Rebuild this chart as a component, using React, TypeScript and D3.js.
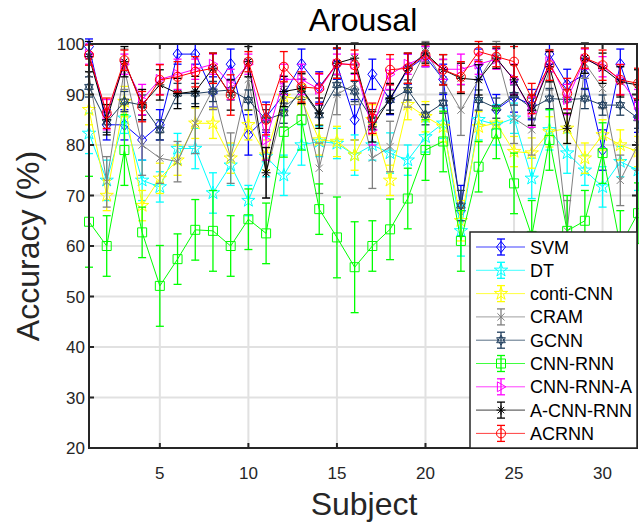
import React from "react";
import * as d3 from "d3";

const subjects = [1,2,3,4,5,6,7,8,9,10,11,12,13,14,15,16,17,18,19,20,21,22,23,24,25,26,27,28,29,30,31,32];
const xTicks = [5, 10, 15, 20, 25, 30];
const yTicks = [20, 30, 40, 50, 60, 70, 80, 90, 100];

const svmVals = [99.5,84,84,81,84,98,98,90.5,96,82,85.5,90,96,91.5,96,85,94,89,95,97.5,93,67,96,87,89.5,88,98,92,94,79,96,85.5];
const svmErr  = [1.5,3,3,4,3,2,2,3,3,4,3,3,3,3,3,4,3,3,3,2,3,5,3,3,3,3,2,3,3,4,3,3];
const dtVals  = [82.3,73,85.3,73,71.7,79.3,79.3,70.5,76,69,77.7,74,80,80.7,80.3,78,80,78.4,77,81.6,84.3,63,85,84,85.3,73.4,83,78.4,75,71.7,76.7,75];
const dtErr   = [4,4,3,4,3,3,4,4,4,3,4,4,4,3,3,4,3,4,3,3,3,5,4,4,3,4,4,4,3,4,3,4];
const contiVals = [87,70,88.6,68,73.4,77,84.3,84.3,77.4,84,78,89.6,89,81,80.7,78,85,73,88,85.6,83.6,65,83.6,84.3,78.7,78.4,82.6,83.3,77.4,82,80,78.7];
const contiErr  = [3,3,3,3,3,3,3,3,3,3,3,3,3,3,3,3,3,3,3,3,3,4,3,3,3,3,3,3,3,3,3,3];
const cramVals = [94,72.7,95,80,77.4,76.7,84.3,91,77.4,93,74.5,87.6,90,75.4,90,92,77.4,79.7,91.5,98.5,92.9,86.9,92.9,98.5,85.3,83,94.9,63,96.2,91.2,73,80];
const cramErr  = [4,5,4,6,5,4,6,4,5,4,5,4,4,5,4,4,6,5,4,2,4,5,4,2,5,5,4,6,3,4,5,5];
const gcnnVals = [91.5,84.5,88.6,87.9,83,90.2,90.2,90.6,90.9,88.9,85,86.3,91,85.9,91.9,90.6,85,88.9,90.9,86,88.3,68,88.9,87.3,89.9,87.3,89.2,89,89.2,87.9,87.9,85.3];
const gcnnErr  = [2,2,2,2,2,2,2,2,2,2,2,2,2,2,2,2,2,2,2,2,2,3,2,2,2,2,2,2,2,2,2,2];
const cnnRnnVals = [64.8,60,79,62.7,52.1,57.4,63.2,63,60,65.3,62.5,82.6,85,67.3,61.7,55.8,60,63.3,69.4,79,80.7,61,75.7,82.3,72.4,62,81,63,65,78.4,60,66.5];
const cnnRnnErr  = [9,6,7,5,8,5,6,8,6,6,6,5,6,5,8,9,5,6,6,6,6,6,5,5,6,7,6,7,6,6,7,6];
const cnnRnnAVals = [98,86,96,89,93,94,95,96,92,96,81,93,93,91,96,96,83,94,96,97.5,95,95,96,97,93,86.5,96.5,89,97,95.5,93,88];
const cnnRnnAErr  = [2,3,2,3,3,3,2,2,3,2,4,3,3,3,2,2,3,3,2,2,2,3,2,2,3,3,2,3,2,2,3,3];
const aCnnRnnVals = [97.5,85,96.5,88,91.9,90.2,90.6,95.2,89.9,96.5,74.5,90.6,91.2,86.3,96.2,97.2,83.6,89.2,95.2,98.2,94.9,93.2,92.9,97.2,92.9,86.9,95.5,83.3,97.2,95.2,92.5,91.9];
const aCnnRnnErr  = [3,3,3,3,3,3,3,3,3,3,5,3,3,3,3,3,3,3,3,2,3,3,3,2,3,3,3,3,3,3,3,3];
const acrnnVals = [97.8,86.3,96.8,87.6,92.9,93.5,94.5,95.2,89.9,96.5,85,95.5,91.5,91.2,96.2,95.8,85.3,94.9,95.2,97.8,94.9,93.5,98.5,97.5,96.5,89.2,95.8,90.2,97.2,95.8,92.9,92.2];
const acrnnErr  = [2,3,2,3,3,3,3,3,4,2,3,3,3,3,3,3,3,3,3,2,3,3,2,2,3,3,3,3,2,3,3,3];

const seriesNames = ["SVM","DT","conti-CNN","CRAM","GCNN","CNN-RNN","CNN-RNN-A","A-CNN-RNN","ACRNN"];
const seriesColors = ["#0000ff","#00ffff","#ffff00","#808080","#22405f","#00ff00","#ff00ff","#000000","#ff0000"];
const seriesMarkers = ["diamond","pentagram","pentagram","x","hexagram","square","triright","asterisk","circle"];
const seriesValues = [svmVals,dtVals,contiVals,cramVals,gcnnVals,cnnRnnVals,cnnRnnAVals,aCnnRnnVals,acrnnVals];
const seriesErrors = [svmErr,dtErr,contiErr,cramErr,gcnnErr,cnnRnnErr,cnnRnnAErr,aCnnRnnErr,acrnnErr];

function markerPath(kind: string): string {
  const s = 4.5;
  switch (kind) {
    case "diamond": return `M0,${-s*1.25}L${s},0L0,${s*1.25}L${-s},0Z`;
    case "pentagram": return d3.symbol(d3.symbolStar, 55)()!;
    case "x": return `M${-s*0.8},${-s*0.8}L${s*0.8},${s*0.8}M${-s*0.8},${s*0.8}L${s*0.8},${-s*0.8}`;
    case "hexagram": {
      const r = 5;
      const t1 = [0, 1, 2].map(i => { const a = -Math.PI/2 + i*2*Math.PI/3; return [r*Math.cos(a), r*Math.sin(a)]; });
      const t2 = [0, 1, 2].map(i => { const a = Math.PI/2 + i*2*Math.PI/3; return [r*Math.cos(a), r*Math.sin(a)]; });
      const p = (t: number[][]) => `M${t[0][0]},${t[0][1]}L${t[1][0]},${t[1][1]}L${t[2][0]},${t[2][1]}Z`;
      return p(t1) + p(t2);
    }
    case "square": return `M${-s},${-s}H${s}V${s}H${-s}Z`;
    case "triright": return `M${-s*0.8},${-s*1.1}L${s*1.1},0L${-s*0.8},${s*1.1}Z`;
    case "asterisk": return `M${-s},0H${s}M0,${-s}V${s}M${-s*0.7},${-s*0.7}L${s*0.7},${s*0.7}M${-s*0.7},${s*0.7}L${s*0.7},${-s*0.7}`;
    case "circle": default: return d3.symbol(d3.symbolCircle, 64)()!;
  }
}

export default function App() {
  const W = 639, H = 527;
  const left = 89, right = 638, top = 44, bottom = 448;
  const x = d3.scaleLinear().domain([1, 32]).range([left, right]);
  const y = d3.scaleLinear().domain([20, 100]).range([bottom, top]);
  const line = d3.line<number>().x((_, i) => x(subjects[i])).y(v => y(v));
  const cap = 4;
  const txt = "#262626";
  const font = "'Liberation Sans', Arial, Helvetica, sans-serif";

  const legX = 470, legY = 232, legW = 167, legH = 216, legStep = 23.3;

  return (
    <svg width={W} height={H} style={{ position: "absolute", left: 0, top: 0, background: "#fff" }} fontFamily={font}>
      <rect x={0} y={0} width={W} height={H} fill="#fff" />
      {xTicks.map(t => <line key={"gx"+t} x1={x(t)} x2={x(t)} y1={top} y2={bottom} stroke="#e1e1e1" strokeWidth={2} />)}
      {yTicks.map(t => <line key={"gy"+t} x1={left} x2={right} y1={y(t)} y2={y(t)} stroke="#e1e1e1" strokeWidth={2} />)}
      {seriesValues.map((vals, si) => {
        const c = seriesColors[si];
        const errs = seriesErrors[si];
        const mp = markerPath(seriesMarkers[si]);
        return (
          <g key={si}>
            <path d={line(vals) || ""} fill="none" stroke={c} strokeWidth={1} />
            {vals.map((v, i) => {
              const cx = x(subjects[i]);
              const y1 = y(v - errs[i]), y2 = y(v + errs[i]);
              return (
                <g key={i} stroke={c} strokeWidth={1.3} fill="none">
                  <line x1={cx} x2={cx} y1={y1} y2={y2} />
                  <line x1={cx - cap} x2={cx + cap} y1={y1} y2={y1} />
                  <line x1={cx - cap} x2={cx + cap} y1={y2} y2={y2} />
                  <path d={mp} transform={`translate(${cx},${y(v)})`} strokeWidth={1} />
                </g>
              );
            })}
          </g>
        );
      })}
      <rect x={left} y={top} width={right - left - 1} height={bottom - top} fill="none" stroke={txt} strokeWidth={2} />
      {xTicks.map(t => (
        <g key={"xt"+t}>
          <line x1={x(t)} x2={x(t)} y1={bottom} y2={bottom - 5} stroke={txt} strokeWidth={2} />
          <line x1={x(t)} x2={x(t)} y1={top} y2={top + 5} stroke={txt} strokeWidth={2} />
          <text x={x(t)} y={bottom + 31} textAnchor="middle" fontSize={17} fill={txt}>{t}</text>
        </g>
      ))}
      {yTicks.map(t => (
        <g key={"yt"+t}>
          <line x1={left} x2={left + 5} y1={y(t)} y2={y(t)} stroke={txt} strokeWidth={2} />
          <line x1={right - 6} x2={right - 1} y1={y(t)} y2={y(t)} stroke={txt} strokeWidth={2} />
          <text x={left - 4} y={y(t) + 6} textAnchor="end" fontSize={17} fill={txt}>{t}</text>
        </g>
      ))}
      <text x={363} y={31} textAnchor="middle" fontSize={32} fill="#000">Arousal</text>
      <text x={364} y={515} textAnchor="middle" fontSize={32} fill={txt}>Subject</text>
      <text transform={`translate(39,${(top + bottom) / 2}) rotate(-90)`} textAnchor="middle" fontSize={32} fill={txt}>Accuracy (%)</text>
      <rect x={legX} y={legY} width={legW} height={legH} fill="#fff" stroke={txt} strokeWidth={1.5} />
      {seriesNames.map((n, i) => {
        const ly = legY + 15 + i * legStep;
        const c = seriesColors[i];
        return (
          <g key={"lg"+i}>
            <line x1={legX + 6} x2={legX + 55} y1={ly} y2={ly} stroke={c} strokeWidth={1} opacity={0.75} />
            <g stroke={c} strokeWidth={1.3} fill="none">
              <line x1={legX + 31} x2={legX + 31} y1={ly - 8} y2={ly + 8} />
              <line x1={legX + 27} x2={legX + 35} y1={ly - 8} y2={ly - 8} />
              <line x1={legX + 27} x2={legX + 35} y1={ly + 8} y2={ly + 8} />
              <path d={markerPath(seriesMarkers[i])} transform={`translate(${legX + 31},${ly})`} strokeWidth={1} />
            </g>
            <text x={legX + 60} y={ly + 6.5} fontSize={18} fill="#000">{n}</text>
          </g>
        );
      })}
    </svg>
  );
}
